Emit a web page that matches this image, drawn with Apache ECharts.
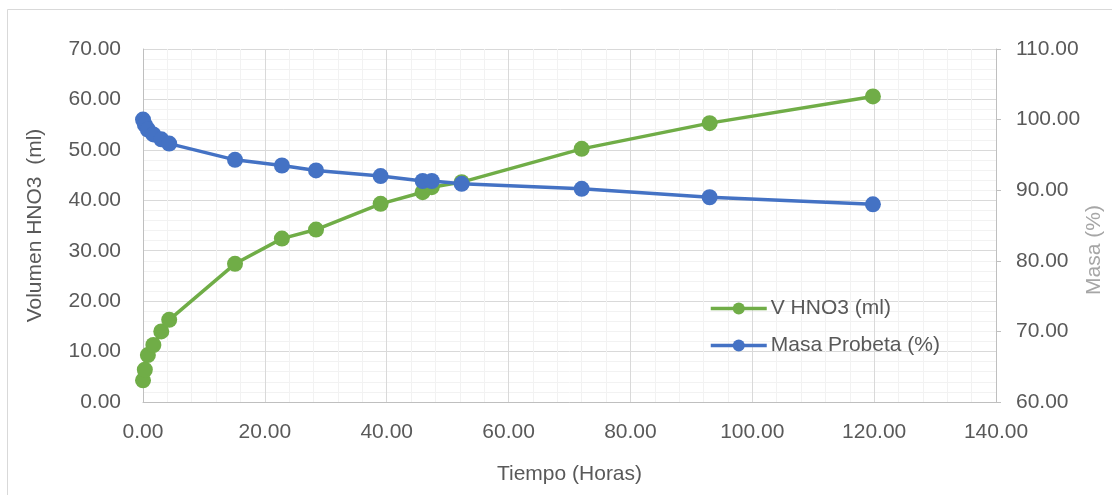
<!DOCTYPE html>
<html>
<head>
<meta charset="utf-8">
<script src="https://cdn.jsdelivr.net/npm/echarts@6/dist/echarts.min.js"></script>
<style>
  html, body { margin: 0; padding: 0; background: #fff; }
  #chart { width: 1112px; height: 495px; }
</style>
</head>
<body>
<div id="chart"></div>
<script>
// Tiempo (horas) de cada medición
const tiempo = [0, 0.3, 0.8, 1.7, 3.0, 4.3, 15.1, 22.8, 28.4, 39.0, 45.9, 47.4, 52.3, 72.0, 93.0, 119.8];
// Volumen acumulado de HNO3 (ml)
const volumenHNO3 = [4.3, 6.4, 9.3, 11.3, 14.0, 16.3, 27.4, 32.4, 34.2, 39.3, 41.6, 42.6, 43.6, 50.2, 55.3, 60.6];
// Masa de la probeta (% de la inicial)
const masaProbeta = [100.0, 99.3, 98.6, 97.9, 97.2, 96.6, 94.3, 93.5, 92.8, 92.0, 91.3, 91.3, 90.9, 90.2, 89.0, 88.0];

const nombres = ['V HNO3 (ml)', 'Masa Probeta (%)'];
const colores = ['#70AD47', '#4472C4'];
const tituloMasa = 'Masa (%)';

const toPairs = (xs, ys) => xs.map((x, i) => [x, ys[i]]);
const fmt = v => v.toFixed(2);
const FONT = 'Liberation Sans, Arial, sans-serif';
const TXT = '#595959';
const FS = 21;

const chart = echarts.init(document.getElementById('chart'), null, { renderer: 'canvas' });

chart.setOption({
  backgroundColor: '#ffffff',
  animation: false,
  textStyle: { fontFamily: FONT },
  graphic: [{
    type: 'rect',
    shape: { x: 7.5, y: 9.5, width: 1200, height: 600 },
    style: { fill: 'none', stroke: '#d9d9d9', lineWidth: 1 },
    silent: true
  }, {
    // título del eje secundario (masa)
    type: 'text',
    x: 1094,
    y: 250,
    rotation: Math.PI / 2,
    style: {
      text: tituloMasa,
      font: FS + 'px ' + FONT,
      fill: '#a6a6a6',
      align: 'center',
      verticalAlign: 'middle'
    },
    silent: true
  }],
  grid: { left: 143, right: 116, top: 49, bottom: 93, containLabel: false, outerBoundsMode: 'none' },
  legend: {
    orient: 'vertical',
    left: 704,
    top: 293,
    itemWidth: 56,
    itemHeight: 15,
    itemGap: 16,
    lineStyle: { width: 3.5 },
    textStyle: { fontFamily: FONT, fontSize: FS, color: TXT, padding: [0, 0, 0, -1] },
    data: nombres
  },
  xAxis: {
    type: 'value',
    min: 0, max: 140, interval: 20,
    name: 'Tiempo (Horas)',
    nameLocation: 'middle',
    nameGap: 62,
    nameTextStyle: { fontFamily: FONT, fontSize: FS, color: TXT },
    axisLine: { show: true, lineStyle: { color: '#bfbfbf', width: 1 } },
    axisTick: { show: false },
    axisLabel: { formatter: fmt, fontFamily: FONT, fontSize: FS, color: TXT, margin: 20 },
    splitLine: { show: true, lineStyle: { color: '#d9d9d9', width: 1 } },
    minorTick: { show: false, splitNumber: 5 },
    minorSplitLine: { show: true, lineStyle: { color: '#f2f2f2', width: 1 } }
  },
  yAxis: [{
    type: 'value',
    position: 'left',
    min: 0, max: 70, interval: 10,
    name: 'Volumen HNO3  (ml)',
    nameLocation: 'middle',
    nameGap: 97,
    nameTextStyle: { fontFamily: FONT, fontSize: FS, color: TXT },
    axisLine: { show: true, lineStyle: { color: '#bfbfbf', width: 1 } },
    axisTick: { show: false },
    axisLabel: { formatter: fmt, fontFamily: FONT, fontSize: FS, color: TXT, margin: 22 },
    splitLine: { show: true, lineStyle: { color: '#d9d9d9', width: 1 } },
    minorTick: { show: false, splitNumber: 5 },
    minorSplitLine: { show: true, lineStyle: { color: '#f2f2f2', width: 1 } }
  }, {
    type: 'value',
    position: 'right',
    min: 60, max: 110, interval: 10,
    axisLine: { show: true, lineStyle: { color: '#bfbfbf', width: 1 } },
    axisTick: { show: true, length: 5, lineStyle: { color: '#bfbfbf' } },
    axisLabel: { formatter: fmt, fontFamily: FONT, fontSize: FS, color: TXT, margin: 20 },
    splitLine: { show: false }
  }],
  series: [{
    name: nombres[0],
    type: 'line',
    yAxisIndex: 0,
    data: toPairs(tiempo, volumenHNO3),
    smooth: false,
    symbol: 'circle',
    symbolSize: 16,
    lineStyle: { color: colores[0], width: 3.5 },
    itemStyle: { color: colores[0] },
    z: 2
  }, {
    name: nombres[1],
    type: 'line',
    yAxisIndex: 1,
    data: toPairs(tiempo, masaProbeta),
    smooth: false,
    symbol: 'circle',
    symbolSize: 16,
    lineStyle: { color: colores[1], width: 3.5 },
    itemStyle: { color: colores[1] },
    z: 3
  }]
});
</script>
</body>
</html>
